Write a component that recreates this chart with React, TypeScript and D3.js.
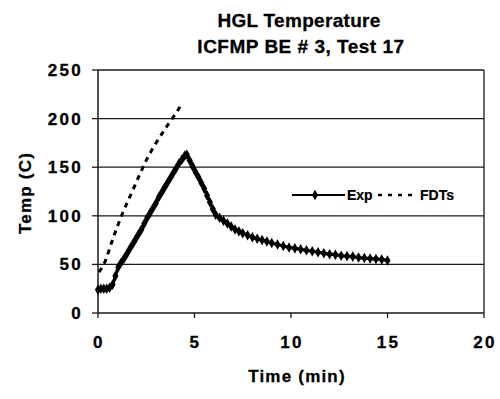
import React from "react";
import * as d3 from "d3";

const expTime = [0.0,0.15,0.3,0.45,0.6,0.75,0.9,1.05,1.2,1.35,1.5,1.65,1.8,1.95,2.1,2.25,2.4,2.55,2.7,2.85,3.0,3.15,3.3,3.45,3.6,3.75,3.9,4.05,4.2,4.35,4.5,4.6,4.75,4.9,5.05,5.2,5.35,5.5,5.65,5.8,5.95,6.1,6.3,6.5,6.7,6.9,7.1,7.3,7.5,7.75,8.0,8.25,8.5,8.75,9.0,9.3,9.6,9.9,10.2,10.5,10.8,11.1,11.4,11.7,12.0,12.3,12.6,12.9,13.2,13.5,13.8,14.1,14.4,14.7,15.0];
const expTemp = [24,25,25,25,26,29,38,47,52,56,61,66,71,76,81,86,92,98,103,108,113,119,124,129,134,139,144,149,154,158,162,163,157,151,145,140,134,128,121,114,107,101,98,95,92,89,86,84,82,80,78,76.5,75,73.5,72,70.5,69,67.5,66.5,65.5,64.5,63.5,62.5,61.5,60.5,60,59,58.5,58,57,56.5,56,55.5,55,54];

const fdtTime = [0.05,0.3,0.8,1.3,1.75,2.15,2.5,2.95,3.5,3.95,4.25];
const fdtTemp = [42,50,78,104,124,142,157,173,190,203,212];

const xTicks = [0,5,10,15,20];
const yTicks = [0,50,100,150,200,250];
const titleLines = ["HGL Temperature", "ICFMP BE # 3, Test 17"];
const xLabel = "Time (min)";
const yLabel = "Temp (C)";
const seriesNames = ["Exp", "FDTs"];

export default function App() {
  const W = 500, H = 399;
  const x = d3.scaleLinear().domain([0, 20]).range([98, 484]);
  const y = d3.scaleLinear().domain([0, 250]).range([313, 70]);
  const font = "'Liberation Sans', Arial, Helvetica, sans-serif";

  const expData = expTime.map((t, i) => [t, expTemp[i]] as [number, number]);
  const fdtData = fdtTime.map((t, i) => [t, fdtTemp[i]] as [number, number]);
  const line = d3.line<[number, number]>().x(d => x(d[0])).y(d => y(d[1])).curve(d3.curveMonotoneX);
  const diamond = d3.symbol().type(d3.symbolDiamond).size(32)();

  return (
    <svg width={W} height={H} style={{ position: "absolute", left: 0, top: 0, background: "#fff" }} fontFamily={font}>
      <rect x={0} y={0} width={W} height={H} fill="#fff" />
      <text x={299} y={27} textAnchor="middle" fontSize={19} fontWeight="bold" letterSpacing={0.3} stroke="#000" strokeWidth={0.3}>{titleLines[0]}</text>
      <text x={301} y={53} textAnchor="middle" fontSize={19} fontWeight="bold" letterSpacing={0.5} stroke="#000" strokeWidth={0.3}>{titleLines[1]}</text>

      {yTicks.map(v => (
        <g key={"gy" + v}>
          <line x1={x(0)} x2={x(20)} y1={y(v)} y2={y(v)} stroke="#1a1a1a" strokeWidth={1.3} />
          <line x1={x(0) - 6} x2={x(0)} y1={y(v)} y2={y(v)} stroke="#1a1a1a" strokeWidth={1.3} />
          <text x={83} y={y(v) + 6} textAnchor="end" fontSize={17} fontWeight="bold" letterSpacing={2.3} stroke="#000" strokeWidth={0.3}>{v}</text>
        </g>
      ))}
      <line x1={x(0)} x2={x(0)} y1={y(0)} y2={y(250)} stroke="#1a1a1a" strokeWidth={1.5} />
      <line x1={x(20)} x2={x(20)} y1={y(0)} y2={y(250)} stroke="#1a1a1a" strokeWidth={1.3} />
      {xTicks.map(v => (
        <g key={"gx" + v}>
          <line x1={x(v)} x2={x(v)} y1={y(0)} y2={y(0) + 5} stroke="#1a1a1a" strokeWidth={1.3} />
          <text x={x(v) + 1} y={348} textAnchor="middle" fontSize={17} fontWeight="bold" letterSpacing={2.3} stroke="#000" strokeWidth={0.3}>{v}</text>
        </g>
      ))}
      <text x={297} y={382} textAnchor="middle" fontSize={17} fontWeight="bold" letterSpacing={1.2} stroke="#000" strokeWidth={0.3}>{xLabel}</text>
      <text transform={`translate(31,193) rotate(-90)`} textAnchor="middle" fontSize={17} fontWeight="bold" letterSpacing={1.2} stroke="#000" strokeWidth={0.3}>{yLabel}</text>

      <path d={line(fdtData) || ""} fill="none" stroke="#000" strokeWidth={3} strokeDasharray="5,5" />
      <path d={line(expData) || ""} fill="none" stroke="#000" strokeWidth={3.2} />
      {expData.map((d, i) => (
        <path key={"m" + i} d={diamond || ""} transform={`translate(${x(d[0])},${y(d[1])})`} fill="#000" />
      ))}

      <g>
        <line x1={292} x2={345} y1={195} y2={195} stroke="#000" strokeWidth={2} />
        <path d={diamond || ""} transform="translate(315,195)" fill="#000" />
        <text x={347} y={200} fontSize={14} fontWeight="bold" stroke="#000" strokeWidth={0.2}>{seriesNames[0]}</text>
        <line x1={378} x2={418} y1={195} y2={195} stroke="#000" strokeWidth={2.5} strokeDasharray="4,6" />
        <text x={420} y={200} fontSize={14} fontWeight="bold" stroke="#000" strokeWidth={0.2}>{seriesNames[1]}</text>
      </g>
    </svg>
  );
}
